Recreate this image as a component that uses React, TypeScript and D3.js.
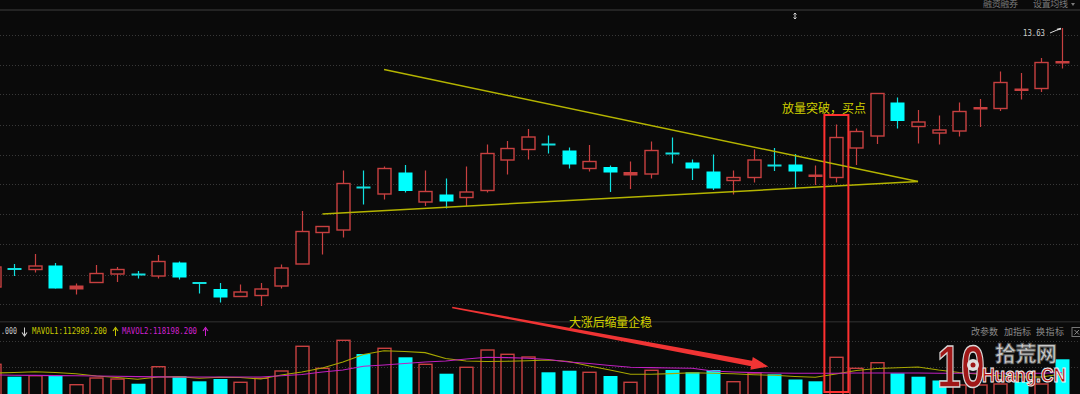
import React from 'react';
import * as d3 from 'd3';

// ---- data (day index -1 .. 51) ----
const open = [8.45, 8.81, 8.80, 8.88, 8.42, 8.54, 8.71, 8.70, 8.67, 8.94, 8.53, 8.41, 8.26, 8.28, 8.47, 8.91, 9.54, 9.59, 10.44, 10.31, 10.74, 10.15, 10.30, 10.24, 10.38, 10.99, 11.20, 11.30, 11.18, 10.82, 10.85, 10.70, 10.71, 11.12, 10.94, 10.76, 10.58, 10.64, 10.88, 10.90, 10.67, 10.64, 11.23, 11.47, 12.14, 11.66, 11.53, 11.57, 12.02, 12.02, 12.39, 12.42, 12.94];
const high = [8.89, 8.91, 9.11, 8.93, 8.52, 8.89, 8.85, 8.77, 9.09, 8.96, 8.53, 8.53, 8.50, 8.53, 8.90, 9.97, 9.66, 10.78, 10.78, 10.86, 10.89, 10.78, 10.62, 10.86, 11.30, 11.37, 11.61, 11.48, 11.24, 11.29, 10.88, 10.96, 11.36, 11.44, 11.00, 11.10, 10.78, 11.20, 11.23, 11.11, 10.88, 11.70, 11.62, 12.32, 12.24, 11.99, 11.88, 12.14, 12.21, 12.76, 12.73, 13.03, 13.63];
const low = [8.41, 8.67, 8.74, 8.42, 8.30, 8.54, 8.55, 8.62, 8.62, 8.60, 8.32, 8.14, 8.26, 8.07, 8.42, 8.91, 9.10, 9.44, 10.10, 10.20, 10.34, 10.07, 10.02, 10.07, 10.34, 10.70, 11.00, 11.12, 10.82, 10.76, 10.35, 10.41, 10.62, 10.92, 10.59, 10.39, 10.30, 10.54, 10.77, 10.41, 10.49, 10.54, 10.89, 11.31, 11.62, 11.32, 11.30, 11.46, 11.65, 11.97, 12.20, 12.35, 12.82];
const close = [8.85, 8.81, 8.87, 8.42, 8.46, 8.72, 8.80, 8.70, 8.96, 8.64, 8.53, 8.24, 8.35, 8.41, 8.83, 9.56, 9.66, 10.52, 10.44, 10.82, 10.37, 10.36, 10.16, 10.35, 11.12, 11.22, 11.45, 11.30, 10.90, 10.96, 10.74, 10.73, 11.18, 11.12, 10.82, 10.42, 10.64, 10.99, 10.88, 10.76, 10.68, 11.44, 11.56, 12.32, 11.77, 11.75, 11.59, 11.96, 12.03, 12.54, 12.40, 12.94, 12.95];
const volume = [143500, 81500, 86500, 86500, 41500, 75000, 70000, 46500, 131500, 83500, 58500, 70000, 53500, 73500, 110000, 233500, 123500, 263500, 195000, 223500, 178500, 143500, 96500, 128500, 215000, 193500, 180000, 103500, 111500, 103500, 85000, 53500, 113500, 115000, 103500, 115000, 56500, 100000, 93500, 67500, 58500, 178500, 123500, 151500, 98500, 81500, 62500, 40000, 40000, 45000, 55000, 45000, 168500];
const volUp = [1, 0, 1, 0, 1, 1, 1, 0, 1, 0, 0, 0, 1, 1, 1, 1, 1, 1, 0, 1, 0, 1, 0, 1, 1, 1, 1, 0, 0, 1, 0, 1, 1, 0, 0, 0, 1, 1, 0, 0, 0, 1, 1, 1, 0, 0, 0, 1, 1, 1, 0, 1, 0];
const mavol1 = [100000, 102500, 106500, 102500, 96000, 85000, 77500, 68500, 80000, 82000, 73500, 78500, 77500, 70000, 90000, 105000, 125000, 155000, 192500, 211500, 207500, 202000, 172500, 160000, 157500, 159000, 161500, 165000, 157500, 135000, 115000, 94000, 94000, 97000, 101000, 98500, 96000, 91500, 88500, 82500, 78500, 95000, 112500, 122500, 126500, 130000, 115000, 102500, 93500, 85000, 80000, 80000, 95000];
const mavol2 = [90000, 89000, 88000, 87000, 86000, 85000, 83500, 82000, 80500, 80000, 80000, 80000, 80000, 80000, 86500, 92500, 105000, 115000, 134000, 140000, 147500, 155000, 160000, 170000, 178500, 177000, 173500, 167500, 155000, 147500, 137500, 128500, 127000, 125000, 123500, 110000, 105000, 102000, 100000, 98500, 98500, 99000, 100000, 100000, 100000, 100000, 99000, 98500, 98500, 98500, 98500, 98500, 102500];
const gridPrices = [13.49, 12.89, 12.30, 11.70, 11.10, 10.50, 9.90, 9.30, 8.70, 8.10];
const gridVolumes = [130000, 260000];
const upperTrend = [{ i: 18, p: 12.80 }, { i: 44, p: 10.56 }];
const lowerTrend = [{ i: 15, p: 9.91 }, { i: 44, p: 10.56 }];
const breakoutDay = 40;

const RED = '#c84040';
const CYAN = '#00ffff';
const CYAN_LINE = '#10e0e0';
const BG = '#0a0a0a';
const CJK = '"Noto Sans CJK SC", sans-serif';
const MONO = '"DejaVu Sans Mono", monospace';

function VArrow({ x, up, color }: { x: number; up: boolean; color: string }) {
  const t = 327.5, b = 336;
  const tip = up ? t : b;
  const dir = up ? 1 : -1;
  return (
    <g>
      <line x1={x} x2={x} y1={t + (up ? 1 : 0)} y2={b - (up ? 0 : 1)} stroke={color} strokeWidth={1} />
      <path d={`M${x - 2.5},${tip + dir * 3.5} L${x},${tip} L${x + 2.5},${tip + dir * 3.5}`} stroke={color} strokeWidth={1.1} fill="none" />
    </g>
  );
}

export default function App() {
  const W = 1080, H = 394;
  const days = open.map((_, k) => k - 1);
  const x = d3.scaleLinear().domain([-1, 51]).range([-6.2, 1061.8]);
  const y = d3.scaleLinear().domain([8.11, 13.63]).range([304, 28]);
  const yv = d3.scaleLinear().domain([0, 355000]).range([393, 322]);

  const maLine = d3.line<number>().x((_, k) => x(days[k])).y((v) => yv(v));
  const trendLine = d3.line<{ i: number; p: number }>().x((d) => x(d.i)).y((d) => y(d.p));

  // arrow (in data space: day index, volume units)
  const aS = [x(21.32), yv(427500)];
  const aT = [x(36.71), yv(132500)];
  const dx = aT[0] - aS[0], dy = aT[1] - aS[1];
  const len = Math.hypot(dx, dy);
  const ux = dx / len, uy = dy / len, nx = -uy, ny = ux;
  const B = [aT[0] - 17 * ux, aT[1] - 17 * uy];
  const pt = (p: number[], w: number) => `${p[0] + nx * w},${p[1] + ny * w}`;
  const arrowPts = [pt(aS, 0.8), pt(B, 2.8), pt(B, 6.5), `${aT[0]},${aT[1]}`, pt(B, -6.5), pt(B, -2.8), pt(aS, -0.8)].join(' ');

  const bx = x(breakoutDay);

  return (
    <svg width={W} height={H} style={{ position: 'fixed', left: 0, top: 0, display: 'block' }}>
      <rect x={0} y={0} width={W} height={H} fill={BG} />
      {/* top line & divider */}
      <rect x={0} y={9} width={W} height={2} fill="#242424" />
      <rect x={0} y={321} width={W} height={1.5} fill="#242424" />
      {/* grid */}
      {gridPrices.map((p, k) => (
        <line key={'g' + k} x1={0} x2={W} y1={Math.round(y(p)) + 0.5} y2={Math.round(y(p)) + 0.5} stroke="#383838" strokeDasharray="1 2" />
      ))}
      {gridVolumes.map((v, k) => (
        <line key={'gv' + k} x1={0} x2={W} y1={Math.round(yv(v)) + 0.5} y2={Math.round(yv(v)) + 0.5} stroke="#383838" strokeDasharray="1 2" />
      ))}

      {/* top right texts */}
      <text x={983} y={6.5} fontSize={9} fill="#7a7a7a" fontFamily={CJK} textLength={35}>融资融券</text>
      <text x={1033} y={6.5} fontSize={9} fill="#7a7a7a" fontFamily={CJK} textLength={35}>设置均线</text>
      <path d="M1071,3 L1075,3 L1073,6 Z" fill="#7a7a7a" />
      <g stroke="#cfcfcf" strokeWidth={1} fill="none">
        <line x1={795} x2={795} y1={13} y2={19} />
        <path d="M793.5,14.5 L795,13 L796.5,14.5 M793.5,17.5 L795,19 L796.5,17.5" />
      </g>

      {/* candles */}
      {days.map((d, k) => {
        const o = open[k], c = close[k], h = high[k], l = low[k];
        const prev = k > 0 ? close[k - 1] : o;
        const up = c > o || (c === o && c >= prev);
        const cx = Math.round(x(d)) + 0.5;
        const top = y(Math.max(o, c)), bot = y(Math.min(o, c));
        const bh = bot - top;
        if (up) {
          if (bh < 2.5) {
            return (
              <g key={'c' + k}>
                <line x1={cx} x2={cx} y1={y(h)} y2={y(l)} stroke={RED} strokeWidth={1.2} />
                <rect x={cx - 7} y={top - 1} width={14} height={Math.max(bh, 0) + 2} fill={RED} />
              </g>
            );
          }
          return (
            <g key={'c' + k}>
              <line x1={cx} x2={cx} y1={y(h)} y2={top} stroke={RED} strokeWidth={1.2} />
              <line x1={cx} x2={cx} y1={bot} y2={y(l)} stroke={RED} strokeWidth={1.2} />
              <rect x={cx - 6.5} y={top} width={13} height={bh} fill={BG} stroke={RED} strokeWidth={1.4} />
            </g>
          );
        }
        return (
          <g key={'c' + k}>
            <line x1={cx} x2={cx} y1={y(h)} y2={y(l)} stroke={CYAN_LINE} strokeWidth={1.2} />
            {bh < 1.5 ? (
              <rect x={cx - 7} y={top - 1} width={14} height={2} fill={CYAN_LINE} />
            ) : (
              <rect x={cx - 7} y={top} width={14} height={bh} fill={CYAN} />
            )}
          </g>
        );
      })}

      {/* trend lines */}
      <path d={trendLine(upperTrend) || ''} stroke="#b4b400" strokeWidth={1.5} fill="none" />
      <path d={trendLine(lowerTrend) || ''} stroke="#b4b400" strokeWidth={1.5} fill="none" />

      {/* volume bars */}
      {days.map((d, k) => {
        const cx = Math.round(x(d)) + 0.5;
        const t = yv(volume[k]);
        const b = yv(0);
        return volUp[k] ? (
          <rect key={'v' + k} x={cx - 6.5} y={t} width={13} height={b - t + 3} fill="none" stroke={RED} strokeWidth={1.4} />
        ) : (
          <rect key={'v' + k} x={cx - 7} y={t} width={14} height={b - t + 3} fill={CYAN} />
        );
      })}
      <path d={maLine(mavol1) || ''} stroke="#a8a800" strokeWidth={1.1} fill="none" />
      <path d={maLine(mavol2) || ''} stroke="#c020c0" strokeWidth={1.1} fill="none" />

      {/* volume legend */}
      <text x={1} y={334} fontSize={9} fill="#c8c8c8" fontFamily={MONO} textLength={16} lengthAdjust="spacingAndGlyphs">.000</text>
      <VArrow x={24.5} up={false} color="#d0d0d0" />
      <text x={32} y={334} fontSize={9} fill="#c8c800" fontFamily={MONO} textLength={75} lengthAdjust="spacingAndGlyphs">MAVOL1:112989.200</text>
      <VArrow x={115.5} up={true} color="#c8c800" />
      <text x={122} y={334} fontSize={9} fill="#d020d0" fontFamily={MONO} textLength={75} lengthAdjust="spacingAndGlyphs">MAVOL2:118198.200</text>
      <VArrow x={205.5} up={true} color="#d020d0" />

      <text x={971} y={334.5} fontSize={9} fill="#8a8a8a" fontFamily={CJK} textLength={27}>改参数</text>
      <text x={1004} y={334.5} fontSize={9} fill="#8a8a8a" fontFamily={CJK} textLength={27}>加指标</text>
      <text x={1036} y={334.5} fontSize={9} fill="#8a8a8a" fontFamily={CJK} textLength={28}>换指标</text>
      <rect x={1072} y={327.5} width={9} height={9} fill="none" stroke="#777" strokeWidth={1} />
      <path d="M1074.5,330 L1079,334.5 M1079,330 L1074.5,334.5" stroke="#888" strokeWidth={1} />

      {/* price label */}
      <text x={1023} y={35.5} fontSize={9} fill="#d0d0d0" fontFamily={MONO} textLength={22} lengthAdjust="spacingAndGlyphs">13.63</text>
      <path d={`M1050,33 L1057,30 L${x(51) - 1},${y(13.63) + 1}`} stroke="#d8d8d8" strokeWidth={1} fill="none" />
      <path d={`M1057,29.5 L1061,28.5`} stroke="#d8d8d8" strokeWidth={1.5} fill="none" />

      {/* breakout highlight */}
      <rect x={bx - 11.5} y={y(11.89)} width={24} height={yv(0) - 1 - y(11.89)} fill="none" stroke="#ff3030" strokeWidth={2} />

      {/* annotations */}
      <text x={782} y={112.5} fontSize={12} fill="#d2d200" fontFamily={CJK} textLength={84}>放量突破，买点</text>
      <text x={569} y={327} fontSize={12} fill="#d2d200" fontFamily={CJK} textLength={83}>大涨后缩量企稳</text>
      <polygon points={arrowPts} fill="#f03434" />

      {/* watermark */}
      <g>
        <text x={937} y={387} fontSize={60} fontWeight="bold" fontFamily="Liberation Sans, sans-serif" fill="#a01818" stroke="#d8d8d8" strokeWidth={1.5} textLength={48} lengthAdjust="spacingAndGlyphs">10</text>
        <circle cx={973} cy={365} r={6} fill="#e0e0e0" />
        <circle cx={973} cy={365} r={2.5} fill="#a01818" />
        <text x={995} y={361} fontSize={21} fontWeight="bold" fontFamily={CJK} fill="#c8c8c8" stroke="#555" strokeWidth={0.8} textLength={62}>拾荒网</text>
        <text x={982} y={382} fontSize={21} fontWeight="bold" fontFamily="Liberation Sans, sans-serif" fill="#b01515" stroke="#f0f0f0" strokeWidth={1} textLength={84} lengthAdjust="spacingAndGlyphs">Huang.CN</text>
      </g>
    </svg>
  );
}
